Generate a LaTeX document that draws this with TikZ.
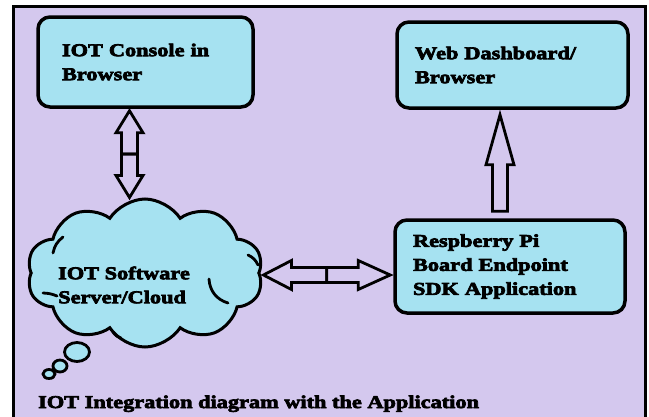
\documentclass[tikz,border=0pt]{standalone}
\usepackage{fontspec}
\usepackage{tikz}
\usetikzlibrary{shapes.symbols,calc}
\newfontfamily\iotfont{Liberation Serif}[UprightFont=* Bold, FakeStretch=1.24, FakeBold=4]
\newcommand{\iotbold}{\iotfont\fontsize{18}{24}\selectfont}
\definecolor{lavender}{RGB}{212,200,238}
\definecolor{skyfill}{RGB}{166,226,241}
\tikzstyle{panel}=[rectangle, rounded corners=12pt, draw, line width=3.5pt, fill=skyfill, align=left, inner xsep=18pt, inner ysep=0pt, font=\iotbold]
\tikzstyle{plaintext}=[inner sep=0pt, align=left, font=\iotbold]
\tikzstyle{blockarrow}=[draw, line width=2.8pt, fill=lavender, line join=miter]
\tikzstyle{puffline}=[line width=2.8pt, line cap=round]
% hollow block arrows: tail, tip, shaft half width, head half width, head length
\newcommand{\varrow}[5]{%
    \draw[blockarrow] let \p1=(#1), \p2=(#2), \p3=($(#2)!#5!(#1)$) in
        (\x2-#3,\y1) -- (\x2-#3,\y3) -- (\x2-#4,\y3) -- (\x2,\y2)
        -- (\x2+#4,\y3) -- (\x2+#3,\y3) -- (\x2+#3,\y1) -- cycle;
}
\newcommand{\harrow}[5]{%
    \draw[blockarrow] let \p1=(#1), \p2=(#2), \p3=($(#2)!#5!(#1)$) in
        (\x1,\y2-#3) -- (\x3,\y2-#3) -- (\x3,\y2-#4) -- (\x2,\y2)
        -- (\x3,\y2+#4) -- (\x3,\y2+#3) -- (\x1,\y2+#3) -- cycle;
}

\begin{document}
\begin{tikzpicture}[x=1pt, y=-1pt]
    \useasboundingbox (0,0) rectangle (649,416);
    \fill[white] (0,0) rectangle (649,416);
    \draw[line width=3pt, fill=lavender] (13,420) -- (13,6) -- (645,6) -- (645,420);

    \node[panel, inner xsep=24pt, text width=167pt, minimum height=90pt] (console) at (145.5, 62) {IOT Console in\\Browser};
    \node[panel, text width=195pt, minimum height=86pt] (dash) at (512.5, 65) {Web Dashboard/\\Browser};
    \node[panel, text width=194pt, minimum height=93pt] (pi) at (510, 266.5) {Respberry Pi\\Board Endpoint\\SDK Application};

    \node[cloud, cloud puffs=10, cloud puff arc=115, aspect=1.6, draw, line width=3pt, fill=skyfill,
          minimum width=236pt, minimum height=148pt, inner sep=0pt] (cloud) at (145, 273) {};
    \draw[puffline] (63,237) to[bend right=20] (53,253);
    \draw[puffline] (43,293) to[bend left=10] (57,296);
    \draw[puffline] (209,279) to[bend right=35] (228,303);
    \draw[puffline] (248,255) to[bend left=20] (258,265);
    \draw[puffline] (113,332) to[bend right=20] (121,338);
    \node[plaintext, anchor=west] (cloudtxt) at ([xshift=-87pt, yshift=-12pt]cloud.center) {IOT Software\\Server/Cloud};
    \draw[puffline, fill=skyfill] (77,352) ellipse [x radius=12.5, y radius=9.5];
    \draw[puffline, fill=skyfill] (60,366) ellipse [x radius=7, y radius=6];
    \draw[puffline, fill=skyfill] (49,374) ellipse [x radius=6, y radius=4.5];

    \coordinate (c1) at ([xshift=-16pt, yshift=-2pt]console.south);
    \coordinate (c2) at (c1 |- cloud.north);
    \coordinate (cm) at ($(c1)!0.5!(c2)$);
    \varrow{cm}{c1}{8pt}{13.5pt}{22pt}
    \varrow{cm}{c2}{8pt}{13.5pt}{22pt}

    \coordinate (h1) at ([xshift=3pt, yshift=-2pt]cloud.east);
    \coordinate (h2) at ([xshift=-3pt]h1 -| pi.west);
    \coordinate (hm) at ($(h1)!0.5!(h2)$);
    \harrow{hm}{h1}{7.5pt}{14.5pt}{28pt}
    \harrow{hm}{h2}{7.5pt}{14.5pt}{32pt}

    \coordinate (u1) at ([xshift=-10pt, yshift=7pt]pi.north);
    \coordinate (u2) at ([yshift=-5pt]u1 |- dash.south);
    \varrow{u1}{u2}{7.5pt}{14pt}{50pt}

    \node[plaintext, anchor=base west] (caption) at (38,408) {IOT Integration diagram with the Application};
\end{tikzpicture}
\end{document}
